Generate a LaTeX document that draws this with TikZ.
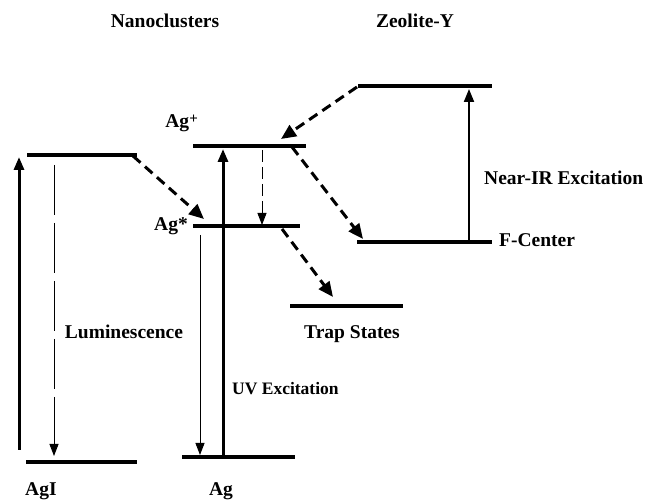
\documentclass[tikz,border=0pt]{standalone}
\usepackage{fontspec}
\setmainfont{Liberation Serif}
\usetikzlibrary{arrows.meta}
\begin{document}
\begin{tikzpicture}[x=1pt,y=-1pt,
  level/.style={line width=4.5pt},
  solidup/.style={line width=3pt,-{Triangle[length=13pt,width=10pt]}},
  dasharrow/.style={line width=3pt,dash pattern=on 10pt off 6pt,-{Triangle[length=15pt,width=13pt]}},
  thinarrow/.style={line width=0.9pt,-{Triangle[length=12pt,width=9pt]}},
  lbl/.style={font=\fontsize{19.5}{22}\selectfont\bfseries,inner sep=0pt,anchor=base},
  small/.style={font=\fontsize{17.5}{20}\selectfont\bfseries}]
\useasboundingbox (0,0) rectangle (649,502);
% level end points
\coordinate (agiuL) at (27,155);  \coordinate (agiuR) at (137,155);
\coordinate (agilL) at (26,462);  \coordinate (agilR) at (137,462);
\coordinate (agpL) at (193,146);  \coordinate (agpR) at (306,146);
\coordinate (agsL) at (193,226);  \coordinate (agsR) at (300,226);
\coordinate (aggL) at (182,457);  \coordinate (aggR) at (295,457);
\coordinate (zuL) at (358,86);    \coordinate (zuR) at (492,86);
\coordinate (fcL) at (357,242);   \coordinate (fcR) at (492,242);
\coordinate (trL) at (290,306);   \coordinate (trR) at (403,306);
% levels
\draw[level] (agiuL) -- (agiuR);
\draw[level] (agilL) -- (agilR);
\draw[level] (agpL) -- (agpR);
\draw[level] (agsL) -- (agsR);
\draw[level] (aggL) -- (aggR);
\draw[level] (zuL) -- (zuR);
\draw[level] (fcL) -- (fcR);
\draw[level] (trL) -- (trR);
% arrow end points
\coordinate (lupS) at (19,450);  \coordinate (lupE) at (19,157);
\coordinate (lumS) at (54,165);  \coordinate (lumE) at (54,456);
\coordinate (uvS) at (223,457);  \coordinate (uvE) at (223,149);
\coordinate (dnS) at (200,235);  \coordinate (dnE) at (200,455);
\coordinate (pdS) at (262,150);  \coordinate (pdE) at (262,225);
\coordinate (irS) at (469,242);  \coordinate (irE) at (469,89);
\coordinate (d1S) at (133,156);  \coordinate (d1E) at (204,219);
\coordinate (d2S) at (357,87);   \coordinate (d2E) at (281,139);
\coordinate (d3S) at (292,147);  \coordinate (d3E) at (363,239);
\coordinate (d4S) at (282,229);  \coordinate (d4E) at (333,297);
% arrows
\draw[solidup] (lupS) -- (lupE);
\draw[thinarrow,dash pattern=on 50pt off 8pt] (lumS) -- (lumE);
\draw[solidup] (uvS) -- (uvE);
\draw[thinarrow] (dnS) -- (dnE);
\draw[thinarrow,dash pattern=on 12pt off 5pt] (pdS) -- (pdE);
\draw[solidup,line width=2pt] (irS) -- (irE);
\draw[dasharrow] (d1S) -- (d1E);
\draw[dasharrow] (d2S) -- (d2E);
\draw[dasharrow] (d3S) -- (d3E);
\draw[dasharrow] (d4S) -- (d4E);
% labels
\node[lbl] (nano) at (165,28) {Nanoclusters};
\node[lbl] (zeo) at (415,28) {Zeolite-Y};
\node[lbl,anchor=base east] (agp) at (198,128) {Ag\raisebox{0.45ex}{\fontsize{15}{15}\selectfont +}};
\node[lbl,anchor=base east] (ags) at (188,231) {Ag*};
\node[lbl,anchor=base west] (nir) at (484,185) {Near-IR Excitation};
\node[lbl,anchor=base west] (fc) at (499,247) {F-Center};
\node[lbl] (lum) at (124,339) {Luminescence};
\node[lbl] (trap) at (352,339) {Trap States};
\node[lbl,small,anchor=base west] (uv) at (232,395) {UV Excitation};
\node[lbl,anchor=base west] (agi) at (25,496) {AgI};
\node[lbl] (ag) at (221,496) {Ag};
\end{tikzpicture}
\end{document}
